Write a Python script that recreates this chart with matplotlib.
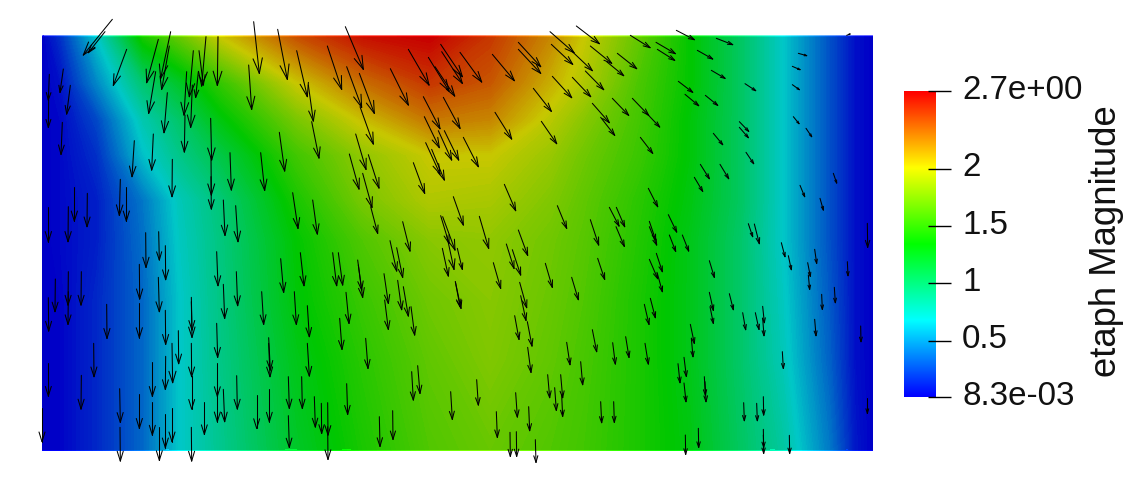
import matplotlib
matplotlib.use("Agg")
import matplotlib.pyplot as plt
import numpy as np
from matplotlib.collections import LineCollection
from matplotlib.colors import LinearSegmentedColormap

plt.rcParams['font.family'] = ['Liberation Sans', 'DejaVu Sans']

# field, as a fraction of the colour range
field_x = [42, 60, 97, 143, 180, 220, 297, 363, 430, 490, 550, 583, 640, 690, 740, 783, 830, 855, 873]
field_y = [36, 83, 120, 155, 200, 240, 300, 360, 450]
field_frac = [
	[0, .06, .25, .53, .63, .75, .90, .98, 1.0, .93, .83, .75, .62, .50, .38, .25, .10, .02, 0],
	[0, .02, .17, .36, .45, .56, .75, .86, .93, .89, .78, .72, .59, .50, .38, .25, .10, .02, 0],
	[0, .01, .09, .28, .37, .48, .65, .76, .85, .83, .73, .67, .58, .49, .38, .25, .10, .02, 0],
	[0, .01, .06, .24, .33, .41, .58, .68, .75, .75, .69, .64, .57, .49, .38, .25, .10, .02, 0],
	[0, .01, .04, .15, .27, .35, .53, .65, .72, .71, .66, .62, .55, .48, .38, .25, .10, .02, 0],
	[0, .01, .04, .14, .26, .34, .50, .60, .67, .68, .64, .61, .54, .47, .37, .25, .10, .02, 0],
	[0, .005, .05, .13, .25, .335, .49, .57, .64, .67, .63, .60, .53, .47, .37, .26, .11, .02, 0],
	[0, .005, .05, .13, .25, .33, .47, .55, .62, .66, .62, .59, .53, .47, .37, .27, .12, .02, 0],
	[0, .005, .05, .13, .25, .32, .45, .53, .60, .63, .60, .58, .53, .48, .38, .30, .15, .03, 0],
]

cbar_values = [2.68, 2, 1.5, 1, 0.5, 0.0083]
cbar_labels = ['2.7e+00', '2', '1.5', '1', '0.5', '8.3e-03']
cbar_title = 'etaph Magnitude'

# arrows as (tail x, tail y, tip x, tip y), read in 3x crops of the picture
arrows_a = [  # crop origin 30,10
	(247,28,160,135),(225,65,175,128),(290,118,250,226),(385,88,350,218),(422,65,392,205),(418,108,395,238),
	(377,185,356,310),(412,248,402,368),(528,80,515,228),(564,80,562,226),(490,122,478,260),(507,122,520,225),
	(470,185,462,315),(487,225,482,352),(465,315,463,426),(505,185,497,262),(58,193,55,270),(56,270,55,352),
	(100,177,90,247),(121,226,110,312),(97,337,93,433),(313,392,306,500),(370,372,365,480),(427,448,426,560),
	(271,508,268,616),(289,530,289,633),(133,530,133,633),(172,550,171,650),(115,590,114,695),(55,590,55,695),
	(542,325,545,450),(543,440,544,555),(543,500,544,597),(600,428,604,540),(580,570,585,676),(617,587,624,695),
	(656,165,665,298),(671,35,688,190),(743,58,772,208),(800,122,832,260),(835,225,850,333),(845,335,867,444),
	(748,367,764,483),(692,428,704,541),(788,548,804,655),(848,570,862,672),(892,108,935,238),(946,50,1000,178),
	(950,170,995,292),(988,190,1033,310),(990,290,1030,402),(977,372,1008,478),(958,432,987,537),(1015,434,1047,534),
	(998,490,1026,592),(1022,590,1043,670),(1081,176,1135,285),(1135,118,1197,225),(1195,142,1257,243),(1215,170,1274,258),
	(1232,103,1297,200),(1235,125,1297,220),(1180,260,1230,356),(1240,262,1290,355),(1183,320,1228,413),(1225,362,1265,450),
	(1243,362,1286,450),(1187,398,1230,492),(1205,418,1243,510),(1150,458,1184,550),(1118,635,1140,723),(1232,617,1257,700),
	(1238,620,1275,720),
]
arrows_b = [  # crop origin 450,10
	(379,48,448,101),(300,65,372,128),(304,103,368,163),(205,97,272,170),(205,118,272,190),(127,133,193,212),
	(30,127,95,216),(135,307,185,387),(40,382,85,470),(250,235,304,304),(274,334,320,401),(307,199,365,263),
	(367,202,422,260),(406,183,461,239),(367,125,427,182),(421,108,485,160),(470,155,521,197),(502,130,560,176),
	(541,76,600,113),(618,97,676,131),(622,118,674,151),(679,61,733,89),(742,121,788,147),(799,85,848,104),
	(784,181,825,205),(685,214,728,247),(705,253,746,287),(766,256,803,286),(885,221,917,242),(1045,130,1070,137),
	(1027,169,1050,179),(1027,224,1048,239),(1030,320,1047,341),(1068,355,1085,380),(868,335,896,364),(868,352,895,383),
	(790,370,818,404),(888,427,911,461),(751,463,778,506),(810,463,836,506),(733,502,758,544),(427,280,478,338),
	(452,322,494,376),(487,265,536,316),(547,265,596,316),(590,310,629,351),(571,382,608,430),(595,535,623,590),
	(655,614,680,666),(478,592,507,648),(499,592,524,650),(598,634,617,690),(1150,490,1160,519),(1050,526,1064,560),
	(1110,565,1120,600),(1252,640,1253,712),(322,587,350,655),(421,629,446,705),(163,523,197,602),(10,560,40,645),
	(88,619,116,715),(1190,76,1200,72),(895,641,908,680),
]
arrows_c = [  # crop origin 30,235
	(347,-7,348,97),(386,-10,388,75),(406,32,407,134),(328,88,329,192),(385,127,388,230),(328,205,328,308),
	(406,226,407,328),(115,110,114,210),(115,170,114,268),(154,110,153,210),(76,132,75,230),(55,188,56,288),
	(230,208,231,310),(191,325,192,425),(55,384,55,483),(154,421,153,522),(269,461,271,562),(328,478,328,580),
	(367,382,367,484),(407,364,406,463),(367,500,367,600),(406,538,406,638),(426,520,426,620),(426,325,428,443),
	(445,287,446,386),(484,187,486,285),(484,200,486,307),(484,325,485,425),(485,424,485,522),(523,500,523,598),
	(560,50,564,152),(619,110,623,212),(580,148,584,250),(560,265,563,367),(562,385,562,484),(562,460,562,560),
	(580,463,584,560),(620,422,622,522),(680,481,680,580),(718,463,718,560),(695,170,701,268),(752,71,761,172),
	(811,53,822,152),(793,170,799,268),(832,212,838,305),(716,308,721,405),(716,325,720,425),(832,325,838,423),
	(775,425,778,520),(815,425,817,520),(775,542,778,637),(853,485,856,576),(874,505,875,595),(893,503,894,600),
	(893,575,894,673),(950,446,953,538),(1048,545,1050,634),(1088,527,1089,613),(908,53,920,152),(925,53,938,150),
	(983,75,995,165),(985,90,998,187),(948,172,957,265),(929,250,936,343),(1007,310,1014,400),(1062,116,1075,205),
	(1103,136,1115,224),(1120,155,1135,243),(1143,215,1154,300),(1064,195,1075,283),(1080,17,1100,108),(1100,38,1118,127),
	(1145,410,1150,495),(1163,392,1170,475),(1262,470,1267,553),(1276,140,1290,215),(1237,40,1255,123),(1250,0,1272,103),
	(270,577,271,678),(388,577,388,676),(484,577,485,678),(36,520,36,620),
]
arrows_d = [  # crop origin 450,235
	(80,434,85,510),(197,473,202,546),(236,515,239,587),(139,530,142,607),(180,592,181,664),(199,590,200,664),
	(256,614,258,682),(293,419,299,488),(332,419,338,488),(314,458,319,526),(335,480,338,544),(392,380,398,449),
	(452,500,455,563),(491,500,493,562),(350,322,360,389),(427,284,440,350),(488,323,496,387),(527,305,537,367),
	(585,325,595,387),(233,337,243,412),(232,260,246,333),(194,242,207,313),(209,142,230,218),(212,182,228,256),
	(16,140,33,220),(130,83,152,160),(169,27,192,100),(187,44,212,120),(286,85,307,157),(365,127,385,194),
	(443,70,464,133),(205,-15,233,61),(22,40,37,103),(598,73,623,131),(619,55,637,110),(622,115,637,170),
	(583,208,597,268),(601,190,616,248),(658,0,677,49),(697,0,716,48),(498,-25,523,34),(598,-25,620,30),
	(778,77,793,127),(778,172,790,226),(780,215,790,265),(838,176,850,224),(878,233,887,284),(916,233,927,283),
	(938,214,943,263),(938,250,942,302),(994,23,1005,65),(1015,62,1024,104),(1073,83,1081,124),(1075,120,1079,163),
	(1094,43,1100,85),(1115,178,1117,223),(1153,157,1156,203),(1192,80,1194,122),(1094,253,1098,302),(1232,273,1233,320),
	(997,350,1000,400),(721,268,733,325),(724,310,729,365),(702,367,709,424),(684,386,690,443),(702,444,708,500),
	(763,425,766,480),(765,440,768,500),(881,503,883,557),(920,505,922,557),(940,485,941,540),(940,583,941,637),
	(940,600,941,655),(1018,601,1019,655),(706,600,707,658),(745,580,746,637),(1252,488,1252,535),(913,-33,928,26),
]

def to_pixels(arrows, x0, y0):
	a = np.array(arrows, dtype=float) / 3
	a[:, [0, 2]] += x0
	a[:, [1, 3]] += y0
	return a

def arrow_segments(a):
	segs = []
	for tx, ty, hx, hy in a:
		dx, dy = hx - tx, hy - ty
		segs.append([(tx, ty), (hx, hy)])
		# open head scales with the arrow
		segs.append([(hx - .29*dx - .09*dy, hy - .29*dy + .09*dx), (hx, hy)])
		segs.append([(hx - .29*dx + .09*dy, hy - .29*dy - .09*dx), (hx, hy)])
	return segs

rainbow = ['#0000ff', '#00ffff', '#00ff00', '#ffff00', '#ff0000']
cmap_bright = LinearSegmentedColormap.from_list('pv', rainbow, 256)
dim = [tuple(.78*c for c in matplotlib.colors.to_rgb(col)) for col in rainbow]
cmap_lit = LinearSegmentedColormap.from_list('pv_lit', dim, 256)

fig = plt.figure(figsize=(11.36, 4.8), dpi=100)
ax = fig.add_axes([0, 0, 1, 1])
ax.set_xlim(0, 1136)
ax.set_ylim(480, 0)
ax.axis('off')

levels = np.linspace(0, 1, 201)
z = np.array(field_frac)
ax.contourf(field_x, field_y, z, levels=levels, cmap=cmap_lit, extend='both')
# unlit rim along top and bottom of the slab
ax.contourf(field_x, [35, 36.5], np.vstack([z[0], z[0]]), levels=levels, cmap=cmap_bright, extend='both', alpha=.6)
ax.contourf(field_x, [449.5, 451], np.vstack([z[-1], z[-1]]), levels=levels, cmap=cmap_bright, extend='both')

all_arrows = np.vstack([
	to_pixels(arrows_a, 30, 10),
	to_pixels(arrows_b, 450, 10),
	to_pixels(arrows_c, 30, 235),
	to_pixels(arrows_d, 450, 235),
])
ax.add_collection(LineCollection(arrow_segments(all_arrows), colors='black', linewidths=0.75, capstyle='round'))

# colour bar
bar_l, bar_r, bar_t, bar_b = 904, 935, 91, 397
cax = fig.add_axes([bar_l/1136, 1 - bar_b/480, (bar_r - bar_l)/1136, (bar_b - bar_t)/480])
vmin, vmax = cbar_values[-1], cbar_values[0]
cax.imshow(np.linspace(1, 0, 256).reshape(-1, 1), cmap=cmap_bright, aspect='auto', extent=[0, 1, vmin, vmax])
cax.set_xticks([])
cax.set_yticks([])
for s in cax.spines.values():
	s.set_visible(False)

tr = cax.get_yaxis_transform()
w = bar_r - bar_l
cax.hlines(cbar_values, (928 - bar_l)/w, (951 - bar_l)/w, transform=tr, color='black', lw=1.0, clip_on=False)
for v, lab in zip(cbar_values, cbar_labels):
	cax.annotate(lab, (58/w, v), xycoords=tr, xytext=(0, 0.7), textcoords='offset points',
		ha='left', va='center', fontsize=23.9, color='#111111', annotation_clip=False)
fig.text(1107/1136, 1 - 241/480, cbar_title, rotation=90, ha='center', va='center', fontsize=26.3, color='#111111')

fig.savefig('out.png', dpi=100)
